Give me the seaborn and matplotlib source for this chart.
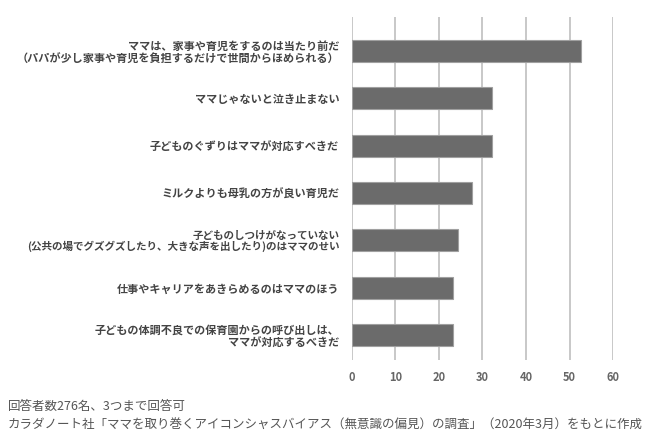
import matplotlib
matplotlib.use("Agg")
import matplotlib.pyplot as plt
import seaborn as sns
import pandas as pd

# 項目と回答率(%)
items = [
    "ママは、家事や育児をするのは当たり前だ\n（パパが少し家事や育児を負担するだけで世間からほめられる）",
    "ママじゃないと泣き止まない",
    "子どものぐずりはママが対応すべきだ",
    "ミルクよりも母乳の方が良い育児だ",
    "子どものしつけがなっていない\n(公共の場でグズグズしたり、大きな声を出したり)のはママのせい",
    "仕事やキャリアをあきらめるのはママのほう",
    "子どもの体調不良での保育園からの呼び出しは、\nママが対応するべきだ",
]
rates = [52.5, 32.2, 32.2, 27.7, 24.3, 23.2, 23.2]
xticks = [0, 10, 20, 30, 40, 50, 60]

note1 = "回答者数276名、3つまで回答可"
note2 = "カラダノート社「ママを取り巻くアイコンシャスバイアス（無意識の偏見）の調査」（2020年3月）をもとに作成"

df = pd.DataFrame({"item": items, "rate": rates})

sns.set_theme(style="white")
plt.rcParams["font.family"] = ["Noto Sans CJK JP", "DejaVu Sans"]

fig = plt.figure(figsize=(6.5, 4.45), dpi=100)
ax = fig.add_axes([0.541, 0.191, 0.9436 - 0.541, 0.9618 - 0.191])

sns.barplot(
    data=df,
    x="rate",
    y="item",
    orient="h",
    color="#6b6b6b",
    saturation=1,
    width=0.47,
    edgecolor="#a0a0a0",
    linewidth=0.8,
    ax=ax,
    zorder=3,
)

ax.set_xlim(0, 60)
ax.set_ylim(6.53, -0.72)
ax.set_xticks(xticks)
ax.set_xticklabels([str(t) for t in xticks])
ax.grid(axis="x", color="#c8c8c8", linewidth=1.4, zorder=0)
ax.set_axisbelow(True)
for s in ax.spines.values():
    s.set_visible(False)

ax.set_xlabel("")
ax.set_ylabel("")
ax.tick_params(axis="x", length=0, pad=8, labelsize=8, labelcolor="#666666")
ax.tick_params(axis="y", length=0, pad=9, labelsize=8, labelcolor="#444444")
for lab in ax.get_yticklabels():
    lab.set_linespacing(1.0)
    lab.set_fontweight("bold")
    # the longest label is a little smaller so it stays inside the figure
    if lab.get_text().startswith("子どものしつけ"):
        lab.set_fontsize(7.6)
for lab in ax.get_xticklabels():
    lab.set_fontweight("bold")

fig.text(0.012, 1 - 406 / 445, note1, fontsize=9, color="#555555", va="center", ha="left")
fig.text(0.012, 1 - 425 / 445, note2, fontsize=9, color="#555555", va="center", ha="left")

fig.savefig("out.png", dpi=100)
